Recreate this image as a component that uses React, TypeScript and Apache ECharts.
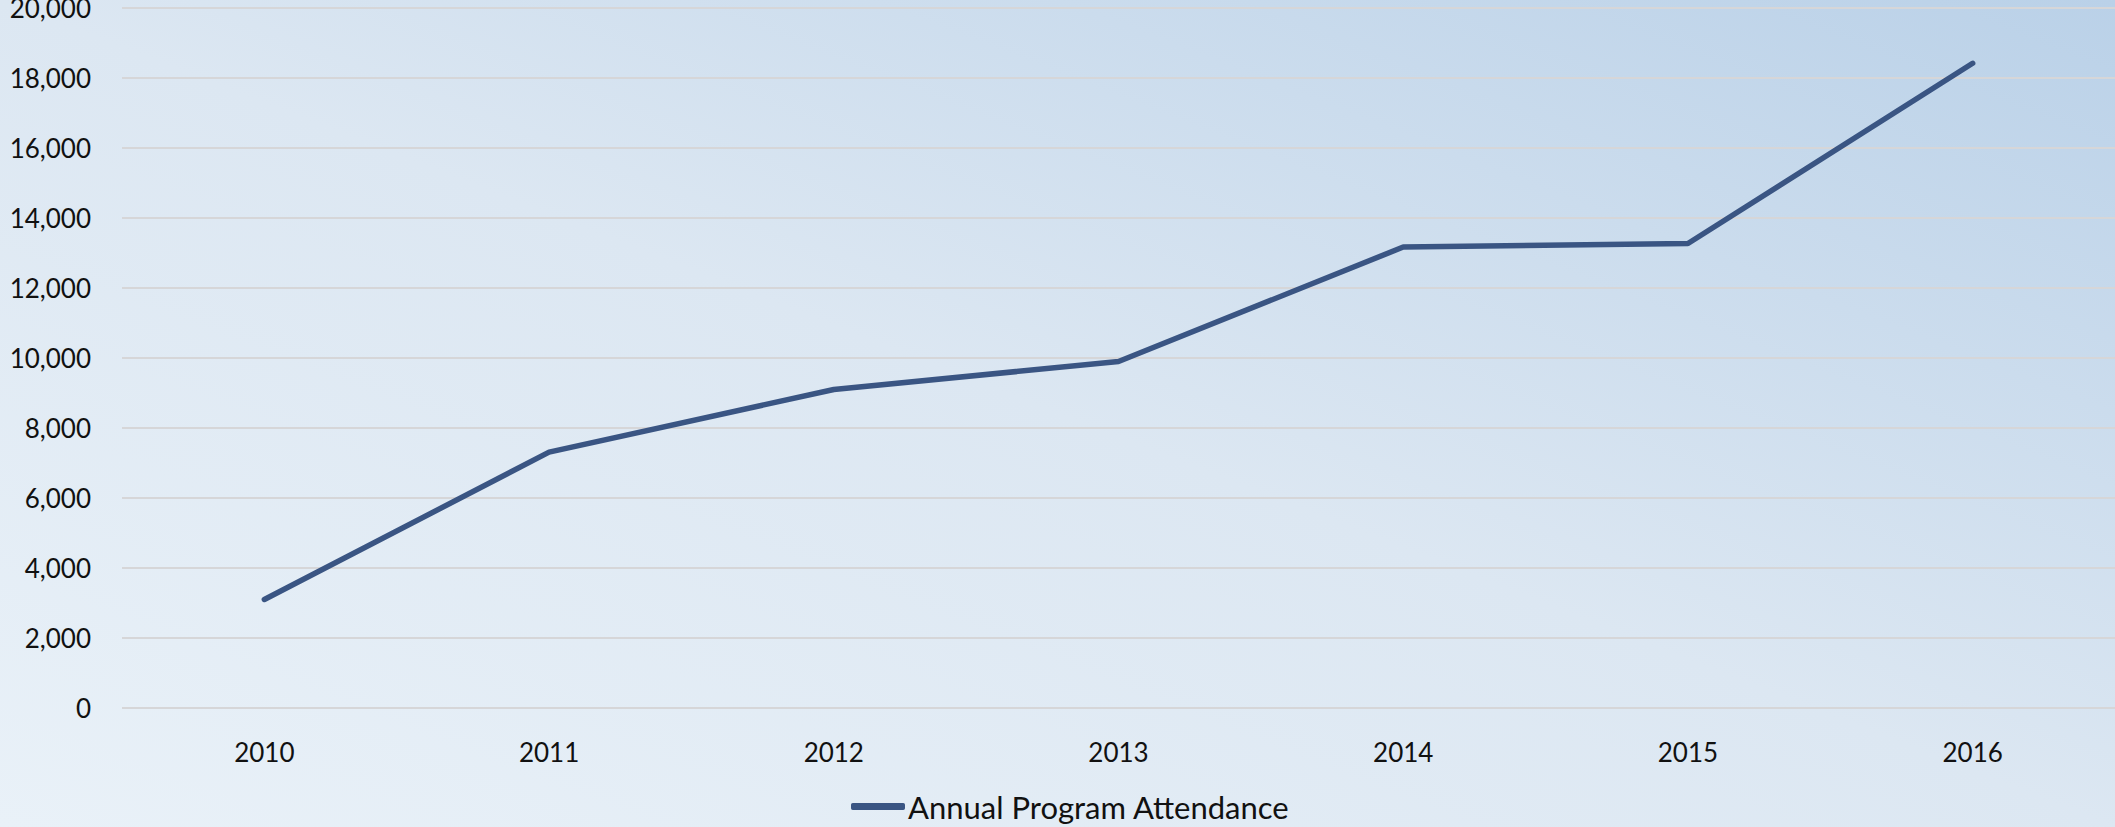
import React, { useEffect, useRef } from "react";
import * as echarts from "echarts";

const years = ["2010", "2011", "2012", "2013", "2014", "2015", "2016"];
const attendance = [3100, 7310, 9100, 9900, 13170, 13270, 18420];
const seriesName = "Annual Program Attendance";

export default function App() {
  const ref = useRef<HTMLDivElement>(null);
  useEffect(() => {
    if (!ref.current) return;
    const chart = echarts.init(ref.current, null, { renderer: "svg" });
    chart.setOption({
      animation: false,
      backgroundColor: {
        type: "linear",
        x: 0,
        y: 1,
        x2: 1,
        y2: 0,
        colorStops: [
          { offset: 0, color: "#E9F1F8" },
          { offset: 0.5, color: "#DCE7F2" },
          { offset: 1, color: "#BAD1E8" },
        ],
      },
      textStyle: { fontFamily: "Lato" },
      grid: {
        left: 122,
        right: 0,
        top: 8,
        bottom: 119,
        containLabel: false,
        outerBoundsMode: "none",
      },
      legend: {
        bottom: 0,
        left: 846,
        icon: "roundRect",
        itemWidth: 54,
        itemHeight: 7,
        itemGap: 10,
        textStyle: { fontFamily: "Lato", fontSize: 31, color: "#111", padding: [0, 0, 0, -2] },
        data: [seriesName],
      },
      xAxis: {
        type: "category",
        data: years,
        boundaryGap: true,
        axisLine: { show: false },
        axisTick: { show: false },
        axisLabel: { fontFamily: "Lato", fontSize: 26, color: "#111", margin: 31 },
      },
      yAxis: {
        type: "value",
        min: 0,
        max: 20000,
        interval: 2000,
        axisLine: { show: false },
        axisTick: { show: false },
        axisLabel: {
          fontFamily: "Lato",
          fontSize: 26,
          color: "#111",
          margin: 31,
          formatter: (v: number) => v.toLocaleString("en-US"),
        },
        splitLine: { lineStyle: { color: "#D6D6D8", width: 2 } },
      },
      series: [
        {
          name: seriesName,
          type: "line",
          data: attendance,
          symbol: "none",
          lineStyle: { color: "#3A5583", width: 5.5, cap: "round", join: "round" },
          itemStyle: { color: "#3A5583" },
        },
      ],
    });
    return () => chart.dispose();
  }, []);
  return (
    <div
      ref={ref}
      style={{ position: "fixed", left: 0, top: 0, width: 2115, height: 827 }}
    />
  );
}
